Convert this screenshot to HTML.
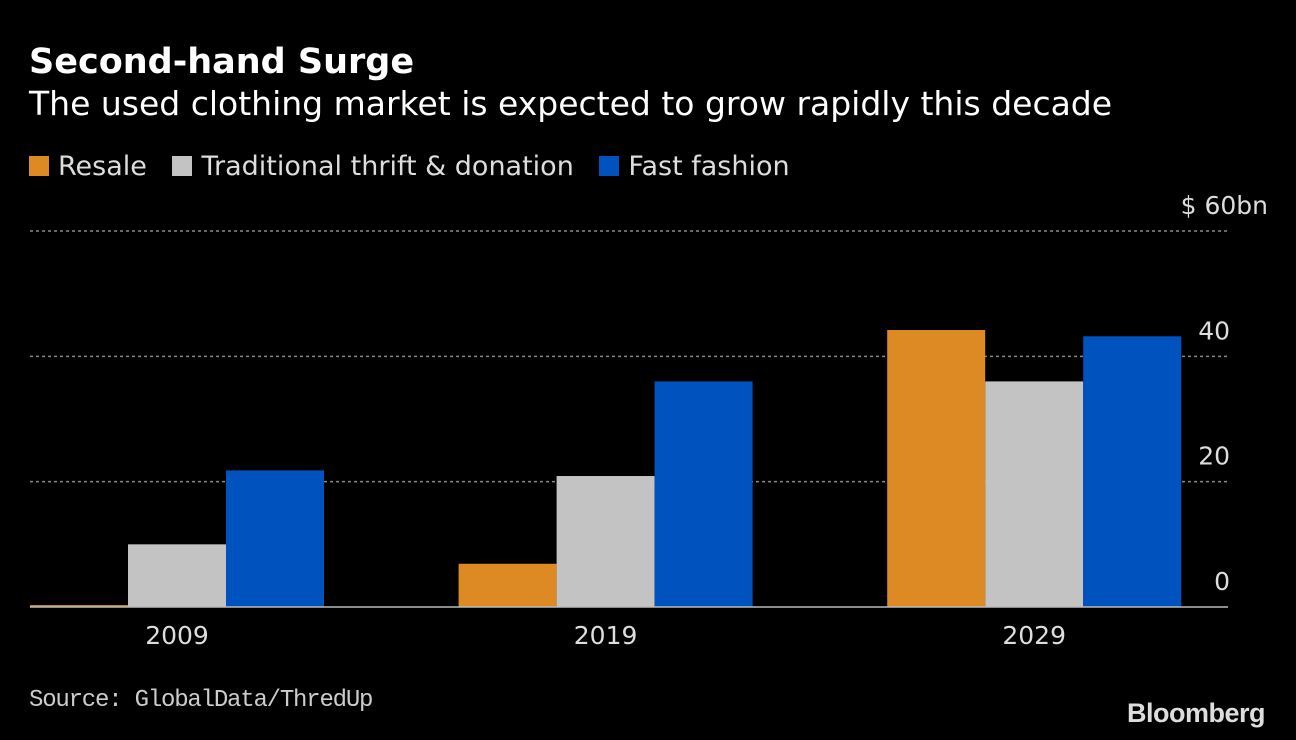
<!DOCTYPE html>
<html><head><meta charset="utf-8"><style>
html,body{margin:0;padding:0;background:#000;}
body{width:1296px;height:740px;overflow:hidden;font-family:"DejaVu Sans",sans-serif;color:#fff;position:relative;}
.t{position:absolute;white-space:nowrap;}
</style></head><body>
<div class="t" style="left:29px;top:42px;font-size:35px;font-weight:bold;">Second-hand Surge</div>
<div class="t" style="left:29px;top:84px;font-size:33px;">The used clothing market is expected to grow rapidly this decade</div>
<div class="t" style="left:29px;top:151px;font-size:27px;color:#ddd;">
<span><span style="display:inline-block;width:20px;height:20px;background:#dd8a24;margin-right:9px;vertical-align:-1px"></span>Resale</span>
<span style="margin-left:17px"><span style="display:inline-block;width:20px;height:20px;background:#c3c3c3;margin-right:9px;vertical-align:-1px"></span>Traditional thrift &amp; donation</span>
<span style="margin-left:17px"><span style="display:inline-block;width:20px;height:20px;background:#0052be;margin-right:9px;vertical-align:-1px"></span>Fast fashion</span>
</div>
<svg id="chart" width="1296" height="740" style="position:absolute;left:0;top:0" xmlns="http://www.w3.org/2000/svg"></svg>
<div class="t" style="left:29px;top:687px;font-size:24px;font-family:'Liberation Mono',monospace;color:#ccc;letter-spacing:-1.2px">Source: GlobalData/ThredUp</div>
<div class="t" style="left:1127px;top:698px;font-size:27px;font-weight:bold;font-family:'Liberation Sans',sans-serif;color:#ddd;letter-spacing:-0.5px">Bloomberg</div>
<script>
const categories=["2009","2019","2029"];
const resale=[0.3,6.9,44.2];
const thrift=[10.0,20.9,36.0];
const fastFashion=[21.8,36.0,43.2];
const ticks=[0,20,40,60];
const tickLabels=["0","20","40","$ 60bn"];
const svg=document.getElementById('chart');
const NS="http://www.w3.org/2000/svg";
const y0=607,pxPer=(607-231)/60;
function y(v){return y0-v*pxPer;}
function gx(i){return 177+i*428.6;}
const bw=98;
ticks.forEach((t,i)=>{
  if(t!==0){
    const l=document.createElementNS(NS,'line');
    l.setAttribute('x1',30);l.setAttribute('x2',1228);l.setAttribute('y1',y(t));l.setAttribute('y2',y(t));
    l.setAttribute('stroke','#888');l.setAttribute('stroke-dasharray','3,3');l.setAttribute('stroke-width','1.5');
    
    
    svg.appendChild(l);
  }
  const tx=document.createElementNS(NS,'text');
  tx.setAttribute('x',t===60?1268:1230);tx.setAttribute('y',y(t)-17);tx.setAttribute('text-anchor','end');
  tx.setAttribute('fill','#ddd');tx.setAttribute('font-size','25');tx.setAttribute('font-family','DejaVu Sans, sans-serif');
  tx.textContent=tickLabels[i];
  
  
  svg.appendChild(tx);
});
const series=[[resale,'#dd8a24','resale'],[thrift,'#c3c3c3','thrift'],[fastFashion,'#0052be','fast-fashion']];
categories.forEach((c,i)=>{
  series.forEach((s,j)=>{
    const r=document.createElementNS(NS,'rect');
    const v=s[0][i];
    r.setAttribute('x',gx(i)-1.5*bw+j*bw);r.setAttribute('width',bw);
    r.setAttribute('y',y(v));r.setAttribute('height',y0-y(v));r.setAttribute('fill',s[1]);
    
    
    svg.appendChild(r);
  });
  const tx=document.createElementNS(NS,'text');
  tx.setAttribute('x',gx(i));tx.setAttribute('y',644);tx.setAttribute('text-anchor','middle');
  tx.setAttribute('fill','#ddd');tx.setAttribute('font-size','25');tx.setAttribute('font-family','DejaVu Sans, sans-serif');
  tx.textContent=c;
  
  
  svg.appendChild(tx);
});
const base=document.createElementNS(NS,'line');
base.setAttribute('x1',30);base.setAttribute('x2',1228);base.setAttribute('y1',y0);base.setAttribute('y2',y0);
base.setAttribute('stroke','#bbb');base.setAttribute('stroke-width','1.5');


svg.appendChild(base);
</script>
</body></html>
